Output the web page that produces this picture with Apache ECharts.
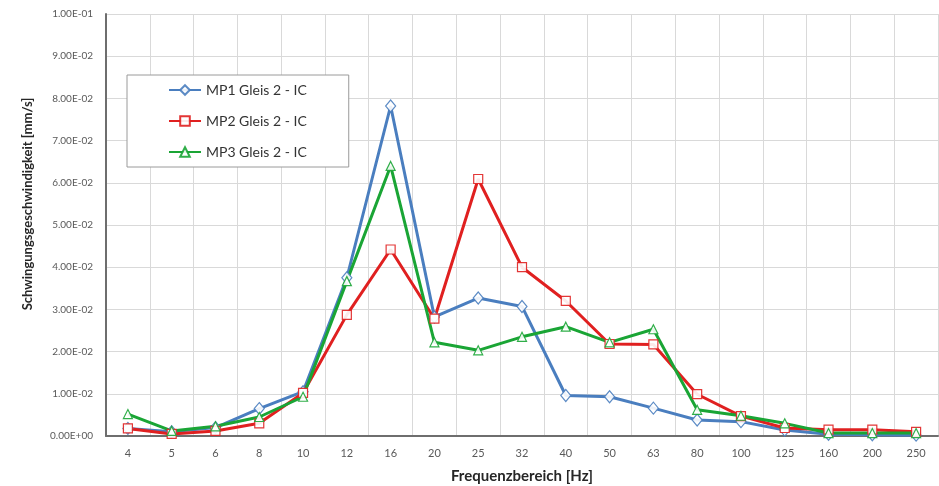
<!DOCTYPE html>
<html>
<head>
<meta charset="utf-8">
<script src="https://cdn.jsdelivr.net/npm/echarts@6/dist/echarts.min.js"></script>
<style>
  html, body { margin: 0; padding: 0; background: #ffffff; }
  #chart { width: 939px; height: 486px; }
</style>
</head>
<body>
<div id="chart"></div>
<script>
// Terzband-Mittenfrequenzen [Hz]
const frequencies = ['4', '5', '6', '8', '10', '12', '16', '20', '25', '32', '40', '50', '63', '80', '100', '125', '160', '200', '250'];

// Schwingungsgeschwindigkeit [mm/s] je Messpunkt
const mp1 = [0.0018, 0.0010, 0.0020, 0.0065, 0.0105, 0.0375, 0.0782, 0.0282, 0.0327, 0.0307, 0.0096, 0.0093, 0.0066, 0.0038, 0.0034, 0.0014, 0.0004, 0.0003, 0.0002];
const mp2 = [0.0018, 0.0005, 0.0012, 0.0030, 0.0102, 0.0287, 0.0442, 0.0278, 0.0609, 0.0400, 0.0320, 0.0218, 0.0217, 0.0099, 0.0047, 0.0019, 0.0015, 0.0015, 0.0010];
const mp3 = [0.0052, 0.0012, 0.0023, 0.0045, 0.0093, 0.0367, 0.0640, 0.0222, 0.0203, 0.0235, 0.0259, 0.0222, 0.0253, 0.0062, 0.0048, 0.0030, 0.0007, 0.0007, 0.0007];

const seriesNames = ['MP1 Gleis 2 - IC', 'MP2 Gleis 2 - IC', 'MP3 Gleis 2 - IC'];
const yTicks = { min: 0, max: 0.1, interval: 0.01 };

// Excel-artige Exponentialdarstellung, z. B. 1.00E-02
function sci(v) {
  const s = Number(v).toExponential(2);
  const parts = s.split('e');
  const sign = parts[1][0] === '-' ? '-' : '+';
  const exp = parts[1].replace(/[+-]/, '').padStart(2, '0');
  return parts[0] + 'E' + sign + exp;
}

const FONT = 'Lato, "Open Sans", sans-serif';

function lineSeries(name, data, color, symbol, symbolSize) {
  return {
    name: name,
    type: 'line',
    data: data,
    symbol: symbol,
    symbolSize: symbolSize,
    showAllSymbol: true,
    lineStyle: { color: color, width: 3 },
    itemStyle: { color: '#ffffff', borderColor: color, borderWidth: 1.2, opacity: 0.9 },
    z: 3
  };
}

const chart = echarts.init(document.getElementById('chart'), null, { renderer: 'canvas' });
chart.setOption({
  animation: false,
  backgroundColor: '#ffffff',
  color: ['#4a7ebf', '#e02020', '#1aa535'],
  grid: { left: 106, right: 1, top: 14, bottom: 50, containLabel: false, outerBoundsMode: 'none' },
  legend: {
    orient: 'vertical',
    left: 127,
    top: 75,
    padding: [8, 42, 8, 41],
    itemGap: 17,
    itemWidth: 32,
    itemHeight: 12,
    borderColor: '#9a9a9a',
    borderWidth: 1,
    backgroundColor: '#ffffff',
    textStyle: { fontFamily: FONT, fontSize: 14, color: '#333333' },
    data: seriesNames
  },
  xAxis: {
    type: 'category',
    data: frequencies,
    boundaryGap: true,
    name: 'Frequenzbereich [Hz]',
    nameLocation: 'middle',
    nameGap: 33,
    nameTextStyle: { fontFamily: FONT, fontSize: 15, fontWeight: 'bold', color: '#262626' },
    axisLine: { show: true, lineStyle: { color: '#6e6e6e', width: 2 } },
    axisTick: { show: false },
    axisLabel: { fontFamily: FONT, fontSize: 11, color: '#595959', margin: 12, interval: 0 },
    splitLine: { show: true, interval: 0, lineStyle: { color: '#d9d9d9', width: 1 } }
  },
  yAxis: {
    type: 'value',
    min: yTicks.min,
    max: yTicks.max,
    interval: yTicks.interval,
    name: 'Schwingungsgeschwindigkeit [mm/s]',
    nameLocation: 'middle',
    nameGap: 72,
    nameRotate: 90,
    nameTextStyle: { fontFamily: FONT, fontSize: 13, fontWeight: 'bold', color: '#262626', padding: [0, 0, 0, 42] },
    axisLine: { show: true, lineStyle: { color: '#6e6e6e', width: 2 } },
    axisTick: { show: false },
    axisLabel: { fontFamily: FONT, fontSize: 10, color: '#595959', margin: 13, formatter: sci },
    splitLine: { show: true, lineStyle: { color: '#d9d9d9', width: 1 } }
  },
  series: [
    lineSeries(seriesNames[0], mp1, '#4a7ebf', 'diamond', [10, 12]),
    lineSeries(seriesNames[1], mp2, '#e02020', 'rect', 9),
    lineSeries(seriesNames[2], mp3, '#1aa535', 'triangle', 9)
  ]
});
</script>
</body>
</html>
